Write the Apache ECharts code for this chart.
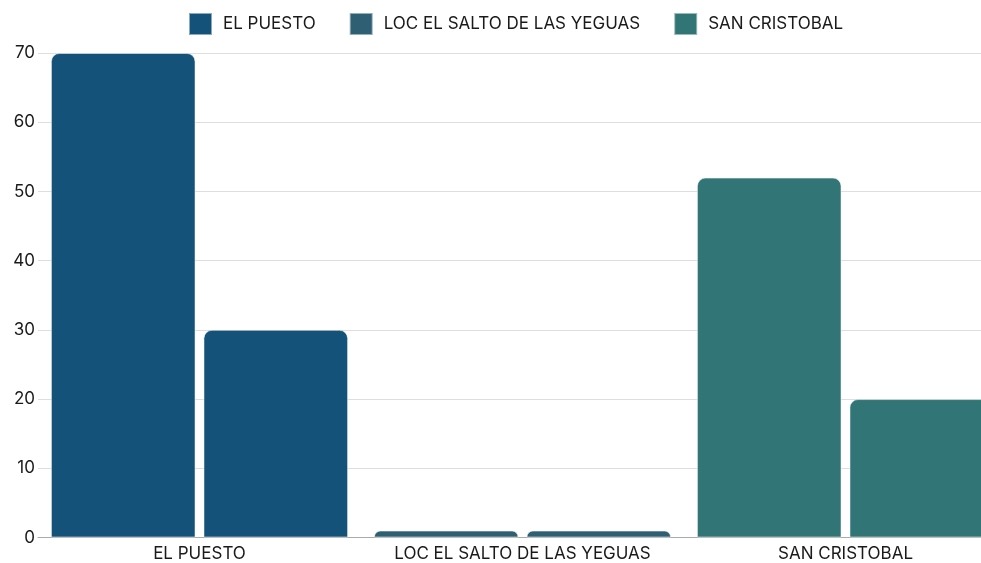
<!DOCTYPE html>
<html>
<head>
<meta charset="utf-8">
<script src="https://cdn.jsdelivr.net/npm/echarts@6/dist/echarts.min.js"></script>
<style>html,body{margin:0;padding:0;background:#fff;}#c{width:981px;height:563px;}</style>
</head>
<body>
<div id="c"></div>
<script>
var categories = ['EL PUESTO', 'LOC EL SALTO DE LAS YEGUAS', 'SAN CRISTOBAL'];
var seriesNames = ['EL PUESTO', 'LOC EL SALTO DE LAS YEGUAS', 'SAN CRISTOBAL'];
var firstBarValues = [70, 1, 52];
var secondBarValues = [30, 1, 20];
var yTicks = [0, 10, 20, 30, 40, 50, 60, 70];
var colors = ['#15527a', '#2f5f72', '#327577'];

var FONT = 'Inter, "Noto Sans", sans-serif';
var series = [];
var barSets = [firstBarValues, secondBarValues];
barSets.forEach(function (vals, slot) {
  seriesNames.forEach(function (name, i) {
    var data = categories.map(function (c, j) { return j === i ? vals[i] : '-'; });
    series.push({
      name: name,
      type: 'bar',
      stack: 'slot' + slot,
      data: data,
      barCategoryGap: '8%',
      barGap: '5.5%',
      itemStyle: { color: colors[i], borderRadius: [8, 8, 0, 0], borderColor: 'rgba(255,255,255,0.5)', borderWidth: 1 },
      emphasis: { disabled: true }
    });
  });
});

var chart = echarts.init(document.getElementById('c'), null, { renderer: 'canvas' });
chart.setOption({
  animation: false,
  color: colors,
  legend: {
    data: seriesNames,
    top: 7,
    left: 183,
    icon: 'rect',
    itemWidth: 23,
    itemHeight: 22,
    itemGap: 33,
    textStyle: { fontFamily: FONT, fontSize: 17, color: '#1a1a1a', padding: [0, 0, 0, 6] }
  },
  grid: { left: 38, top: 53, width: 969, bottom: 25.5, containLabel: false, outerBoundsMode: 'none' },
  xAxis: {
    type: 'category',
    data: categories,
    axisLine: { lineStyle: { color: '#aaa' } },
    axisTick: { show: false },
    axisLabel: { fontFamily: FONT, fontSize: 17, color: '#1a1a1a', margin: 8, interval: 0 }
  },
  yAxis: {
    type: 'value',
    min: yTicks[0],
    max: yTicks[yTicks.length - 1],
    interval: 10,
    axisLine: { show: false },
    axisTick: { show: false },
    splitLine: { lineStyle: { color: '#dedede' } },
    axisLabel: { fontFamily: FONT, fontSize: 17, color: '#1a1a1a', margin: 3 }
  },
  series: series
});
</script>
</body>
</html>
